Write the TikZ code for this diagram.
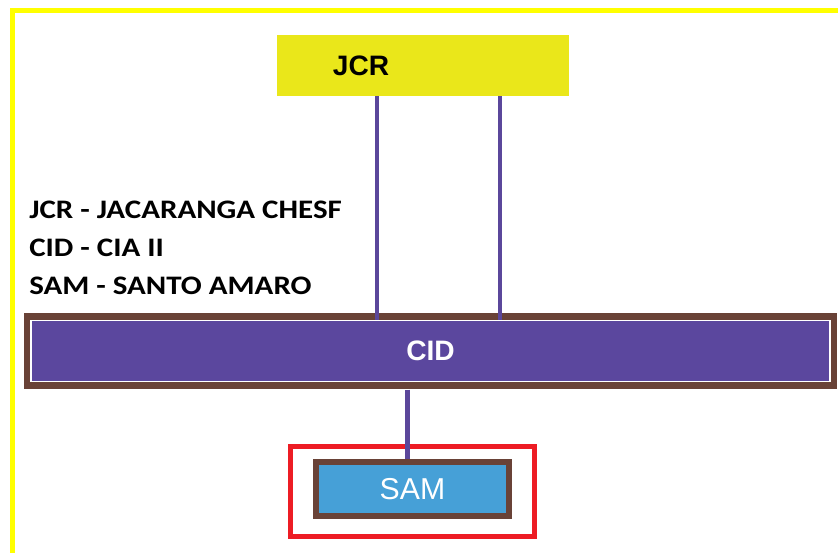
\documentclass[tikz,border=0pt]{standalone}
\usepackage{fontspec}
\setmainfont{Liberation Sans}
\newfontfamily\legendfont[FakeStretch=1.16]{Carlito}
\usepackage{tikz}
\usetikzlibrary{positioning}
\definecolor{jcryellow}{RGB}{234,231,26}
\definecolor{framey}{RGB}{255,255,0}
\definecolor{linkpurple}{RGB}{91,71,155}
\definecolor{cidpurple}{RGB}{91,71,158}
\definecolor{boxbrown}{RGB}{105,66,55}
\definecolor{samblue}{RGB}{70,160,215}
\definecolor{framered}{RGB}{237,28,36}

\begin{document}
\begin{tikzpicture}[
    x=0.025cm, y=-0.025cm,
    font=\fontsize{20}{24}\selectfont,
    station/.style={
		rectangle,
		inner sep=0pt,
		text centered
	},
	jcrbox/.style={
		station,
		fill=jcryellow,
		font=\bfseries\fontsize{20}{24}\selectfont,
		align=left,
		text width=4.5cm,
		inner xsep=1.4cm,
		minimum height=1.525cm
	},
	cidbar/.style={
		station,
		fill=cidpurple,
		draw=white,
		line width=1.4pt,
		preaction={draw=boxbrown, line width=10pt},
		text=white,
		font=\bfseries\fontsize{20}{24}\selectfont,
		minimum width=19.975cm,
		minimum height=1.525cm
	},
	sambox/.style={
		station,
		fill=samblue,
		draw=boxbrown,
		line width=4.3pt,
		text=white,
		font=\fontsize{21.5}{25}\selectfont,
		minimum width=4.825cm,
		minimum height=1.35cm
	},
	highlight/.style={
		rectangle,
		draw=framered,
		line width=3.6pt,
		minimum width=6.1cm,
		minimum height=2.25cm
	},
	link/.style={
		draw=linkpurple,
		line width=3.2pt
	},
	legend/.style={
		anchor=west,
		inner sep=0pt,
		font=\legendfont\bfseries\fontsize{19}{22}\selectfont
	}
  ]
    % frame and page
  \useasboundingbox (0,0) rectangle (838,553);
  \begin{scope}
  \clip (0,0) rectangle (838,553);
  \draw [framey, line width=3.6pt] (12.5,10.5) rectangle (860,580);
  \end{scope}

    % the stations
  \node [jcrbox] (jcr) at (423,65.5) {JCR};
  \node [cidbar] (cid) at (430.5,351) {CID};
  \node [highlight] (samframe) at (412.5,491.5) {};
  \node [sambox] (sam) at (412.5,489) {SAM};

  \coordinate (jcrA) at ([xshift=-1.15cm]jcr.south);
  \coordinate (jcrB) at ([xshift=1.925cm]jcr.south);
  \draw [link] (jcrA) -- (jcrA |- cid.north);
  \draw [link] (jcrB) -- (jcrB |- cid.north);
  \coordinate (cidC) at ([xshift=-0.575cm]cid.south);
  \draw [link] ([yshift=-5pt]cidC) -- (cidC |- sam.north);

    % legend
  \node [legend] (leg1) at (29,210) {JCR - JACARANGA CHESF};
  \node [legend, below=0.95cm of leg1.west, anchor=west] (leg2) {CID - CIA II};
  \node [legend, below=0.95cm of leg2.west, anchor=west] (leg3) {SAM - SANTO AMARO};

\end{tikzpicture}
\end{document}
